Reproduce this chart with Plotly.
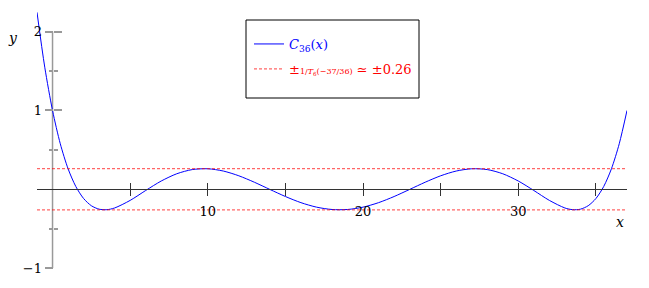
import plotly.graph_objects as go

# ---- data ----
x_vals = [-1, -0.5, 0, 0.5, 1, 1.5, 2, 2.5, 3, 3.5, 4, 5, 6, 7, 8, 9, 10, 11, 12,
          13, 14, 15, 16, 17, 18, 19, 20, 21, 22, 23, 24, 25, 26, 27, 28, 29, 30,
          31, 32, 33, 33.5, 34, 34.5, 35, 35.5, 36, 36.5, 37]
c36_vals = [2.2457, 1.5491, 1.0, 0.5770, 0.2610, 0.0346, -0.1176, -0.2095, -0.2532,
            -0.2596, -0.2379, -0.1418, -0.0160, 0.1041, 0.1963, 0.2493, 0.2598,
            0.2310, 0.1706, 0.0889, -0.0027, -0.0926, -0.1703, -0.2272, -0.2572,
            -0.2572, -0.2272, -0.1703, -0.0926, -0.0027, 0.0889, 0.1706, 0.2310,
            0.2598, 0.2493, 0.1963, 0.1041, -0.0160, -0.1418, -0.2379, -0.2596,
            -0.2532, -0.2095, -0.1176, 0.0346, 0.2610, 0.5770, 1.0]
bound = 0.261

x_tickvals = [10, 20, 30]
x_ticktext = ["10", "20", "30"]
x_minorvals = [5, 15, 25, 35]
y_tickvals = [-1, 1, 2]
y_ticktext = ["\u22121", "1", "2"]
y_minorvals = [-0.5, 0.5, 1.5]

x_range = [-1, 37]
y_range = [-1, 2.25]

FONT = "DejaVu Serif, serif"

# page body has an 8px margin: lay the figure out in screen pixels
OFF = 8
W, H = 649 - 2 * OFF, 288 - 2 * OFF
PL, PR, PT, PB = 37, 627, 12, 268          # plot area in screen pixels
ML, MT = PL - OFF, PT - OFF
MR, MB = W - (PR - OFF), H - (PB - OFF)
PW, PH = PR - PL, PB - PT


def px(sx):
    return (sx - PL) / PW


def py(sy):
    return 1 - (sy - PT) / PH


xpos = (0 - y_range[0]) / (y_range[1] - y_range[0])
ypos = (0 - x_range[0]) / (x_range[1] - x_range[0])

fig = go.Figure()
fig.add_trace(go.Scatter(
    x=x_vals, y=c36_vals, mode="lines",
    line=dict(color="#0000ff", width=1, shape="spline", smoothing=0.8),
    name="<span style='color:#0000ff'><i>C</i><sub>36</sub>(<i>x</i>)</span>",
    legendgroup="a", hoverinfo="skip"))
xmin, xmax = x_vals[0], x_vals[-1]
fig.add_trace(go.Scatter(
    x=[xmin, xmax, None, xmin, xmax], y=[bound, bound, None, -bound, -bound],
    xaxis="x2", yaxis="y2", mode="lines",
    line=dict(color="rgba(255,0,0,0.6)", width=1.2, dash="3px,2px"),
    name="<span style='color:#ff0000'>\u00b1<span style='font-size:8px'>1/<i>T</i><sub>6</sub>(\u221237/36)</span> \u2243 \u00b10.26</span>",
    legendgroup="b", hoverinfo="skip"))

# y axis line (only across tick span)
fig.add_shape(type="line", xref="x", yref="y", x0=0, x1=0,
              y0=min(y_tickvals), y1=max(y_tickvals),
              line=dict(color="#999999", width=1.5), layer="below")
# legend frame
fig.add_shape(type="rect", xref="paper", yref="paper",
              x0=px(246), x1=px(419), y0=py(98), y1=py(20),
              line=dict(color="#000000", width=1), fillcolor="white", layer="below")

common_x = dict(range=x_range, anchor="free", position=xpos, tickvals=x_tickvals,
                showgrid=False, zeroline=False, tickcolor="#333333", ticklen=6,
                tickwidth=1)
common_y = dict(range=y_range, anchor="free", position=ypos, tickvals=y_tickvals,
                showgrid=False, zeroline=False, tickcolor="#999999", ticklen=8,
                tickwidth=1.5)
tickfont = dict(family=FONT, size=13, color="#000000")


def xminor(side):
    return dict(tickvals=x_minorvals, ticks=side, ticklen=6, tickcolor="#333333",
                tickwidth=1)


def yminor(side):
    return dict(tickvals=y_minorvals, ticks=side, ticklen=4, tickcolor="#999999",
                tickwidth=1.5)


fig.update_layout(
    width=W, height=H,
    margin=dict(l=ML, r=MR, t=MT, b=MB),
    plot_bgcolor="white", paper_bgcolor="white",
    font=dict(family=FONT, size=13, color="#000000"),
    xaxis=dict(**common_x, ticks="outside", ticktext=x_ticktext, showline=True,
               linecolor="#333333", linewidth=1, ticklabelstandoff=4,
               tickfont=tickfont, minor=xminor("outside")),
    xaxis2=dict(**common_x, overlaying="x", ticks="inside", showticklabels=False,
                showline=False, minor=xminor("inside")),
    yaxis=dict(**common_y, ticks="outside", ticktext=y_ticktext, showline=False,
               tickfont=tickfont, minor=yminor("outside")),
    yaxis2=dict(**common_y, overlaying="y", ticks="inside", showticklabels=False,
                showline=False, minor=yminor("inside")),
    showlegend=True,
    legend=dict(x=px(249), y=py(29), xanchor="left", yanchor="top",
                borderwidth=0, bgcolor="rgba(0,0,0,0)",
                font=dict(family=FONT, size=13),
                itemwidth=30, tracegroupgap=5),
    annotations=[
        dict(text="<i>y</i>", x=px(13), y=py(38), xanchor="center", yanchor="middle",
             xref="paper", yref="paper", showarrow=False,
             font=dict(family=FONT, size=14, color="#000000")),
        dict(text="<i>x</i>", x=px(620), y=py(222), xanchor="center", yanchor="middle",
             xref="paper", yref="paper", showarrow=False,
             font=dict(family=FONT, size=14, color="#000000")),
    ],
)

fig.write_html("out.html")
